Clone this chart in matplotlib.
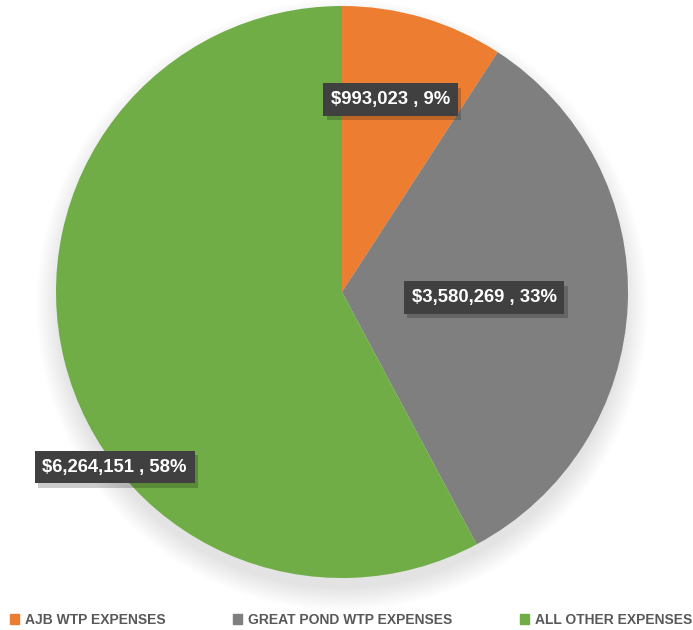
import matplotlib.pyplot as plt
from matplotlib.patches import Circle
import numpy as np

categories = ['AJB WTP EXPENSES', 'GREAT POND WTP EXPENSES', 'ALL OTHER EXPENSES']
expenses = [993023, 3580269, 6264151]
colors = ['#ED7D31', '#7F7F7F', '#70AD47']

# where each data label sits, in pie radius units (x, y)
label_xy = [(0.170, 0.673), (0.497, -0.019), (-0.795, -0.612)]

plt.rcParams['font.family'] = ['Liberation Sans', 'DejaVu Sans']

fig = plt.figure(figsize=(6.93, 6.3), dpi=100)
ax = fig.add_axes([56 / 693, 52 / 630, 572 / 693, 572 / 630])
ax.axis('off')

# soft drop shadow under the pie
for k in range(14):
    r = 0.99 + 0.006 * k
    ax.add_patch(Circle((0.0, -0.045), r, color='black', alpha=0.008, lw=0,
                        zorder=0, clip_on=False))

wedges, _ = ax.pie(expenses, colors=colors, startangle=90, counterclock=False,
                   radius=1.0, wedgeprops=dict(linewidth=0))
ax.set_xlim(-1, 1)
ax.set_ylim(-1, 1)
ax.set_aspect('equal')
for w in wedges:
    w.set_zorder(1)

total = sum(expenses)
for val, (x, y) in zip(expenses, label_xy):
    txt = '${:,} , {:.0f}%'.format(val, val / total * 100)
    # shadow box
    ax.text(x + 0.012, y - 0.016, txt, ha='center', va='center', fontsize=13.3,
            fontweight='bold', color='none', zorder=3,
            bbox=dict(boxstyle='square,pad=0.42', fc='black', ec='none', alpha=0.2))
    ax.text(x, y, txt, ha='center', va='center', fontsize=13.3, fontweight='bold',
            color='white', zorder=4,
            bbox=dict(boxstyle='square,pad=0.42', fc='#404040', ec='none'))

handles = [plt.Rectangle((0, 0), 1, 1, color=c) for c in colors]
leg = fig.legend(handles, categories, loc='center', bbox_to_anchor=(0.5065, 0.016),
                 ncol=3, frameon=False, handlelength=0.65, handleheight=0.75,
                 handletextpad=0.45, columnspacing=4.85, borderpad=0, borderaxespad=0,
                 prop=dict(size=10, weight='bold'))
for t in leg.get_texts():
    t.set_color('#595959')

fig.savefig('out.png', dpi=100)
